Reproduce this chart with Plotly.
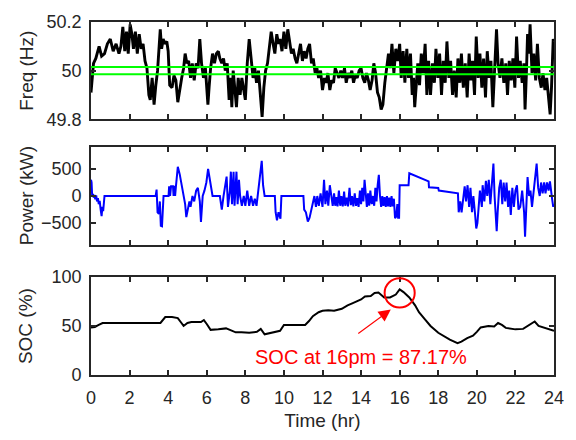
import plotly.graph_objects as go

# ---------------- data ----------------
freq_t = [
    0.00, 0.13, 0.25, 0.42, 0.55, 0.70, 0.85, 1.00, 1.15, 1.30, 1.45, 1.55, 1.65, 1.75, 1.84, 1.93,
    2.03, 2.12, 2.20, 2.30, 2.40, 2.50, 2.60, 2.70, 2.80, 2.90, 3.00, 3.07, 3.17, 3.27, 3.36, 3.45,
    3.59, 3.66, 3.74, 3.83, 3.93, 4.00, 4.08, 4.20, 4.30, 4.40, 4.50, 4.60, 4.70, 4.80, 4.88, 4.97,
    5.06, 5.16, 5.25, 5.35, 5.45, 5.55, 5.64, 5.73, 5.83, 5.93, 6.06, 6.12, 6.20, 6.30, 6.40, 6.50,
    6.60, 6.68, 6.78, 6.87, 6.96, 7.06, 7.16, 7.23, 7.30, 7.37, 7.44, 7.54, 7.63, 7.73, 7.82, 7.91,
    8.00, 8.10, 8.20, 8.30, 8.40, 8.49, 8.58, 8.68, 8.77, 8.87, 8.96, 9.05, 9.15, 9.25, 9.34, 9.44,
    9.53, 9.63, 9.72, 9.80, 9.90, 10.00, 10.10, 10.20, 10.30, 10.39, 10.48, 10.58, 10.67, 10.77, 10.86, 10.96,
    11.05, 11.15, 11.24, 11.33, 11.43, 11.52, 11.62, 11.71, 11.80, 11.90, 12.00, 12.10, 12.19, 12.28, 12.38, 12.47,
    12.57, 12.66, 12.76, 12.85, 12.95, 13.04, 13.14, 13.23, 13.33, 13.42, 13.52, 13.61, 13.70, 13.80, 13.90, 14.00,
    14.09, 14.19, 14.28, 14.38, 14.47, 14.57, 14.66, 14.75, 14.85, 14.94, 15.04, 15.13, 15.23, 15.32, 15.42, 15.51,
    15.60, 15.70, 15.80, 15.90, 16.00, 16.08, 16.18, 16.27, 16.37, 16.46, 16.56, 16.65, 16.72, 16.78, 16.86, 16.94,
    17.03, 17.12, 17.22, 17.32, 17.41, 17.50, 17.60, 17.70, 17.80, 17.88, 17.98, 18.07, 18.17, 18.26, 18.36, 18.45,
    18.55, 18.64, 18.74, 18.83, 18.93, 19.02, 19.12, 19.20, 19.30, 19.40, 19.50, 19.60, 19.69, 19.78, 19.88, 19.97,
    20.07, 20.16, 20.26, 20.35, 20.45, 20.54, 20.64, 20.73, 20.83, 20.92, 21.02, 21.10, 21.20, 21.30, 21.40, 21.50,
    21.59, 21.68, 21.78, 21.87, 21.97, 22.06, 22.16, 22.25, 22.35, 22.44, 22.50, 22.57, 22.63, 22.70, 22.76, 22.86,
    22.95, 23.05, 23.14, 23.24, 23.34, 23.43, 23.53, 23.62, 23.72, 23.80, 23.87, 23.96, 24.00,
]
freq_hz = [
    49.91, 50.03, 50.05, 50.10, 50.06, 50.07, 50.11, 50.13, 50.08, 50.11, 50.07, 50.10, 50.18, 50.08, 50.16, 50.07,
    50.19, 50.15, 50.09, 50.16, 50.07, 50.15, 50.09, 50.11, 50.04, 50.01, 49.90, 49.88, 49.97, 49.86, 49.94, 50.00,
    50.17, 50.09, 50.13, 50.11, 50.12, 50.08, 49.94, 49.93, 49.98, 49.96, 49.87, 49.93, 49.97, 50.01, 50.07, 50.03,
    50.04, 49.97, 50.03, 49.96, 50.03, 50.01, 50.13, 50.03, 49.97, 50.01, 49.86, 49.93, 50.01, 50.07, 50.03, 50.07,
    50.08, 50.05, 50.03, 50.05, 50.00, 50.03, 49.88, 49.97, 49.85, 50.00, 49.93, 49.85, 49.97, 49.90, 49.97, 49.93,
    49.88, 50.03, 50.13, 50.05, 49.97, 50.01, 49.95, 50.00, 49.90, 49.81, 49.93, 50.00, 50.03, 50.09, 50.16, 50.11,
    50.07, 50.15, 50.11, 50.13, 50.08, 50.16, 50.09, 50.17, 50.11, 50.07, 50.09, 50.05, 50.03, 50.08, 50.11, 50.04,
    50.08, 50.05, 50.09, 50.11, 50.03, 50.05, 49.99, 50.01, 49.97, 50.00, 49.92, 49.97, 49.95, 49.99, 49.92, 49.96,
    49.95, 50.01, 49.99, 49.97, 50.00, 49.97, 50.01, 49.95, 49.99, 49.97, 50.00, 49.95, 49.98, 49.97, 50.00, 50.01,
    49.97, 49.95, 49.99, 49.96, 49.92, 49.96, 50.03, 49.99, 49.91, 49.89, 49.84, 49.86, 49.95, 50.01, 50.07, 50.01,
    50.11, 49.99, 50.09, 50.04, 50.11, 49.97, 50.08, 49.95, 50.09, 49.97, 50.07, 49.90, 49.97, 49.85, 49.94, 50.03,
    49.94, 50.07, 49.99, 50.11, 49.90, 50.04, 49.90, 50.03, 49.95, 50.09, 49.97, 50.07, 49.90, 50.04, 49.95, 50.12,
    49.97, 50.04, 49.90, 50.00, 49.89, 50.05, 49.95, 50.07, 49.93, 50.03, 49.89, 50.07, 49.96, 50.04, 49.90, 50.14,
    49.97, 50.07, 49.93, 50.05, 49.89, 50.08, 49.97, 50.04, 49.85, 49.99, 50.17, 50.03, 49.97, 50.05, 49.95, 50.03,
    49.90, 50.04, 49.96, 50.05, 49.93, 50.14, 49.97, 50.04, 49.95, 50.03, 49.84, 49.99, 50.15, 50.07, 50.19, 49.99,
    50.07, 49.96, 50.11, 49.97, 49.93, 49.99, 49.92, 49.97, 49.90, 49.82, 49.93, 50.13, 50.12,
]
deadband_hz = [49.985, 50.015]

power_t = [
    0.00, 0.03, 0.06, 0.10, 0.14, 0.18, 0.22, 0.27, 0.31, 0.36, 0.40, 0.45, 0.50, 0.55, 0.59, 0.63, 0.67, 0.70,
    3.35, 3.40, 3.45, 3.52, 3.57, 3.62, 3.68, 3.72, 3.76,
    4.02, 4.05, 4.10, 4.15, 4.25, 4.28, 4.33, 4.36, 4.40, 4.45, 4.50, 4.60, 4.70, 4.78, 4.88, 4.94, 5.00,
    5.10, 5.16, 5.26, 5.35, 5.45, 5.54, 5.64, 5.70, 5.79, 5.88, 5.98, 6.07, 6.15, 6.25, 6.30,
    6.68, 6.78, 6.87, 6.97, 7.03, 7.10, 7.20, 7.25, 7.31, 7.39, 7.44, 7.54, 7.60, 7.67, 7.73, 7.82, 7.92,
    8.00, 8.10, 8.20, 8.30, 8.40, 8.49, 8.58, 8.68, 8.77, 8.85, 8.92, 9.00,
    9.53, 9.57, 9.64, 9.72, 9.82, 9.87,
    11.01, 11.05, 11.14, 11.24, 11.33, 11.43, 11.49, 11.58, 11.66, 11.73, 11.81, 11.90, 12.00, 12.08, 12.15,
    12.23, 12.30, 12.38, 12.46, 12.53, 12.60, 12.66, 12.72, 12.78, 12.85, 12.92, 12.98, 13.05, 13.12, 13.18,
    13.25, 13.32, 13.40, 13.47, 13.53, 13.60, 13.67, 13.74, 13.80, 13.87, 13.94, 14.00, 14.06, 14.12, 14.18,
    14.24, 14.30, 14.36, 14.42, 14.48, 14.55, 14.62, 14.68, 14.74, 14.80, 14.86, 14.92, 14.98, 15.04, 15.10,
    15.16, 15.22, 15.28, 15.34, 15.40, 15.46, 15.52, 15.58, 15.64, 15.70, 15.76, 15.82, 15.88, 15.92, 15.97,
    16.00, 16.46, 16.50, 17.50, 17.52, 18.00, 18.03, 19.02,
    19.06, 19.14, 19.21, 19.29, 19.37, 19.44, 19.52, 19.60, 19.67, 19.75, 19.82, 19.90, 19.97, 20.03, 20.10,
    20.16, 20.26, 20.30, 20.39, 20.47, 20.54, 20.62, 20.70, 20.77, 20.86, 20.92, 20.97, 21.03, 21.08, 21.16,
    21.24, 21.32, 21.39, 21.47, 21.54, 21.62, 21.68, 21.76, 21.84, 21.92, 22.00, 22.08, 22.16, 22.25, 22.35,
    22.45, 22.50, 22.58, 22.63, 22.71, 22.78, 22.86, 22.94, 23.01, 23.10, 23.18, 23.26, 23.33, 23.41, 23.49,
    23.56, 23.64, 23.72, 23.79, 23.85, 23.90, 23.96, 24.00,
]
power_kw = [
    300, 250, 0, 40, -30, 20, -60, 10, -100, -40, -150, -90, -250, -370, -200, -280, -120, 0,
    0, 120, -300, -330, -100, -550, -560, -300, 0,
    0, 180, 0, 180, 180, 0, 190, 0, 170, 350, 540, 400, 200, 0, -150, -390, -300,
    -100, -200, 0, -100, 100, 150, -100, -480, 0, 100, 250, 500, 300, 100, 0,
    0, -250, 0, 250, 360, -200, 100, 450, -150, 450, -180, 450, -150, 300, 0, -180, 0,
    -180, 100, -180, 0, -180, -50, -180, 100, 350, 650, 200, 0,
    0, -300, -450, -300, -420, 0,
    0, -250, -300, -470, -400, -250, -150, 0, -200, 0, -180, 50, -200, 300, -150,
    100, -180, 200, 0, -180, 50, -180, -20, -190, 100, -180, 0, -190, 80, -180,
    -30, -190, 150, -170, 0, -190, 50, -180, -40, -200, 100, -150, 150, -100, 300,
    0, -200, 50, -180, 100, -150, 0, -180, 150, -100, 200, 390, 0, -200, 0,
    -180, -20, -200, 0, -190, -30, -200, 0, -190, -50, -410, -380, -150, -400, -400,
    200, 200, 420, 270, 160, 150, 100, 50,
    -300, -100, -300, 0, 180, -100, 200, -200, 150, -300, 0, -300, -600, -500, -100,
    100, -200, 200, -100, 280, 0, 300, -150, 200, 600, 0, -300, -650, -300, 150,
    300, -150, 250, -100, 250, -200, 100, -350, 150, -200, 100, 200, -250, -200, 100,
    -300, -750, -200, 350, 0, 100, -200, 100, 300, 600, 150, 0, 250, 50, 250,
    50, 250, 100, 270, 0, -50, -200, -150,
]

soc_t = [
    0.0, 0.2, 0.4, 0.6, 3.6, 3.75, 3.85, 4.2, 4.5, 4.65, 4.8, 5.0, 5.2, 5.7, 5.85, 6.0, 6.2, 6.6,
    7.0, 7.2, 7.5, 7.8, 8.2, 8.6, 8.8, 9.0, 9.3, 9.6, 9.8, 10.0, 11.1, 11.3, 11.5, 11.8, 12.0, 12.3,
    12.6, 13.0, 13.3, 13.6, 14.0, 14.2, 14.5, 14.7, 14.9, 15.2, 15.5, 15.8, 16.0, 16.2, 16.5, 16.8,
    17.0, 17.3, 17.6, 18.0, 18.3, 18.6, 19.0, 19.2, 19.5, 19.8, 20.0, 20.2, 20.6, 20.9, 21.1, 21.3,
    21.5, 22.0, 22.4, 22.7, 23.0, 23.2, 23.5, 23.8, 24.0,
]
soc_pct = [
    48.5, 49, 51, 53, 53, 57, 59, 59, 58, 54, 50, 53, 54, 54, 56, 52, 46, 46.5,
    47.5, 46, 43.5, 43.5, 43, 44, 47, 41.5, 43, 44, 45, 51, 51, 55, 60, 64, 65.5, 66,
    65.5, 67.5, 71, 73.5, 77, 80, 80.5, 83.5, 84, 79, 79, 82, 87.17, 84.5, 79, 71,
    64, 57, 50, 43, 39.5, 36, 32.5, 34, 37.5, 40, 44, 48.5, 50, 49.5, 53, 51,
    48, 46.5, 47, 51, 54.5, 50, 48, 46, 45,
]

hour_ticks = list(range(0, 25, 2))
freq_ticks = [49.8, 50.0, 50.2]
freq_tick_text = ["49.8", "50", "50.2"]
power_ticks = [-500, 0, 500]
soc_ticks = [0, 50, 100]
highlight_hour = 16

# ---------------- figure ----------------
AXIS_COLOR = "#262626"
FONT = "Arial, Liberation Sans, sans-serif"

fig = go.Figure()

fig.add_trace(go.Scatter(x=freq_t, y=freq_hz, mode="lines",
                         line=dict(color="black", width=2.9), xaxis="x", yaxis="y"))
for lim in deadband_hz:
    fig.add_trace(go.Scatter(x=[0, 24], y=[lim, lim], mode="lines",
                             line=dict(color="#00ff00", width=2), xaxis="x", yaxis="y"))
fig.add_trace(go.Scatter(x=power_t, y=power_kw, mode="lines",
                         line=dict(color="#0000ff", width=2), xaxis="x2", yaxis="y2"))
fig.add_trace(go.Scatter(x=soc_t, y=soc_pct, mode="lines",
                         line=dict(color="black", width=2), xaxis="x3", yaxis="y3"))

common_axis = dict(
    showline=True, linecolor=AXIS_COLOR, linewidth=1.6, mirror="ticks",
    ticks="inside", ticklen=5, tickwidth=1.5, tickcolor=AXIS_COLOR,
    showgrid=False, zeroline=False,
    tickfont=dict(family=FONT, size=18, color=AXIS_COLOR),
)

# panel placements (fractions of the plotting height)
dom_top = [0.7245, 1.0]
dom_mid = [0.369, 0.645]
dom_bot = [0.0, 0.278]

fig.update_layout(
    width=576, height=440,
    margin=dict(l=91, r=20, t=12, b=65),
    paper_bgcolor="white", plot_bgcolor="white",
    showlegend=False,
    font=dict(family=FONT, color=AXIS_COLOR),
    xaxis=dict(common_axis, range=[0, 24], tickvals=hour_ticks, showticklabels=False, anchor="y"),
    yaxis=dict(common_axis, range=[49.8, 50.2], tickvals=freq_ticks, ticktext=freq_tick_text,
               domain=dom_top, anchor="x", ticklabelstandoff=4),
    xaxis2=dict(common_axis, range=[0, 24], tickvals=hour_ticks, showticklabels=False, anchor="y2"),
    yaxis2=dict(common_axis, range=[-900, 900], tickvals=power_ticks,
                domain=dom_mid, anchor="x2", ticklabelstandoff=4),
    xaxis3=dict(common_axis, range=[0, 24], tickvals=hour_ticks, anchor="y3",
                ticklabelstandoff=6,
                title=dict(text="Time (hr)", font=dict(family=FONT, size=19, color=AXIS_COLOR),
                           standoff=6)),
    yaxis3=dict(common_axis, range=[0, 100], tickvals=soc_ticks,
                domain=dom_bot, anchor="x3", ticklabelstandoff=4),
)

# y-axis labels, aligned in one column left of the panels
ylabels = [("Freq (Hz)", dom_top), ("Power (kW)", dom_mid), ("SOC (%)", dom_bot)]
for text, dom in ylabels:
    fig.add_annotation(text=text, xref="paper", yref="paper", x=-0.14, y=(dom[0] + dom[1]) / 2,
                       textangle=-90, showarrow=False, xanchor="center", yanchor="middle",
                       font=dict(family=FONT, size=19, color=AXIS_COLOR))

# highlight of the SOC value at 16:00
peak_idx = soc_t.index(highlight_hour)
peak_soc = soc_pct[peak_idx]
cx, cy = highlight_hour, peak_soc - 3.5
fig.add_shape(type="circle", xref="x3", yref="y3",
              x0=cx - 0.78, x1=cx + 0.78, y0=cy - 14.9, y1=cy + 14.9,
              line=dict(color="#ff0000", width=2))
fig.add_annotation(xref="x3", yref="y3", x=highlight_hour - 0.46, y=peak_soc - 20.5,
                   ax=-34, ay=25, text="", showarrow=True,
                   arrowhead=2, arrowsize=2.2, arrowwidth=1.1, arrowcolor="#ff0000")
fig.add_annotation(xref="x3", yref="y3", x=14.0, y=18.8,
                   text=f"SOC at {highlight_hour}pm = {peak_soc:.2f}%", showarrow=False,
                   xanchor="center", yanchor="middle",
                   font=dict(family=FONT, size=20, color="#ff0000"))

fig.write_html("out.html")
